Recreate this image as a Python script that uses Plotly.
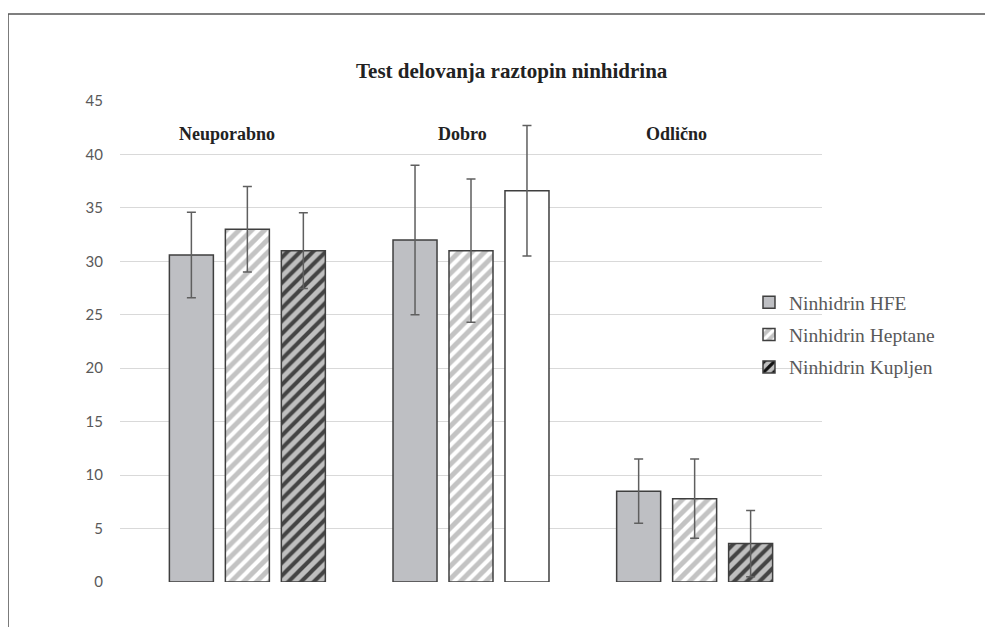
import plotly.graph_objects as go

categories = ["Neuporabno", "Dobro", "Odlično"]
series_names = ["Ninhidrin HFE", "Ninhidrin Heptane", "Ninhidrin Kupljen"]
hfe = [30.6, 32.0, 8.5]
hfe_err = [4.0, 7.0, 3.0]
heptane = [33.0, 31.0, 7.8]
heptane_err = [4.0, 6.7, 3.7]
kupljen = [31.0, 36.6, 3.6]
kupljen_err = [3.55, 6.1, 3.1]
y_ticks = [0, 5, 10, 15, 20, 25, 30, 35, 40, 45]

outline = dict(color="#3f3f3f", width=1.5)
err_style = dict(type="data", color="#5f5f5f", thickness=1.5, width=4.5)

fig = go.Figure()
fig.add_trace(go.Bar(
    name=series_names[0], x=categories, y=hfe,
    error_y=dict(array=hfe_err, **err_style),
    marker=dict(color="#bebfc3", line=outline),
    legendgroup="a",
))
fig.add_trace(go.Bar(
    name=series_names[1], x=categories, y=heptane,
    error_y=dict(array=heptane_err, **err_style),
    marker=dict(color="#c3c3c3", line=outline,
                pattern=dict(shape="/", fgcolor="#ffffff", bgcolor="#c3c3c3",
                             size=9, solidity=0.45, fillmode="replace")),
    legendgroup="b",
))
fig.add_trace(go.Bar(
    name=series_names[2], x=categories, y=kupljen,
    error_y=dict(array=kupljen_err, **err_style),
    marker=dict(color=["#bfbfbf", "#ffffff", "#bfbfbf"], line=outline,
                pattern=dict(shape=["/", "", "/"], fgcolor="#111111", fgopacity=1,
                             size=9, solidity=0.45, fillmode="overlay")),
    legendgroup="c",
))

serif = "Liberation Serif, Times New Roman, serif"

annotations = [dict(
    text="<b>Test delovanja raztopin ninhidrina</b>", xref="paper", yref="paper",
    x=0.558, y=1.0624, showarrow=False, xanchor="center", yanchor="middle",
    font=dict(family=serif, size=21, color="#222222"))]
label_offsets = [-0.09, -0.04, -0.08]
for i, (c, off) in enumerate(zip(categories, label_offsets)):
    annotations.append(dict(
        text="<b>%s</b>" % c, x=i + off, y=41.9, xref="x", yref="y",
        showarrow=False, xanchor="center", yanchor="middle",
        font=dict(family=serif, size=18, color="#222222")))

frame = dict(color="#555555", width=1.5)
shapes = [
    dict(type="line", xref="paper", yref="paper", x0=-0.1595, x1=1.35, y0=1.1809, y1=1.1809, line=frame),
    dict(type="line", xref="paper", yref="paper", x0=-0.1595, x1=-0.1595, y0=1.1809, y1=-0.2, line=frame),
]

fig.update_layout(
    width=985, height=619,
    margin=dict(l=112, r=171, t=93, b=45),
    paper_bgcolor="white", plot_bgcolor="white",
    barmode="group", bargap=0.249, bargroupgap=0.214,
    showlegend=True,
    legend=dict(x=0.896, y=0.5135, xanchor="left", yanchor="middle",
                font=dict(family=serif, size=19.5, color="#595959"),
                tracegroupgap=4, bgcolor="rgba(0,0,0,0)"),
    annotations=annotations, shapes=shapes,
    xaxis=dict(type="category", range=[-0.5695, 2.5695], showticklabels=False,
               showgrid=False, zeroline=False, showline=False, ticks=""),
    yaxis=dict(range=[0, 45], tickvals=y_ticks, showgrid=True, gridcolor="#d9d9d9",
               gridwidth=1, zeroline=False, showline=False, ticks="",
               ticklabelstandoff=16,
               tickfont=dict(family="Lato, Open Sans, sans-serif", size=15, color="#595959")),
)

fig.write_html("out.html")
